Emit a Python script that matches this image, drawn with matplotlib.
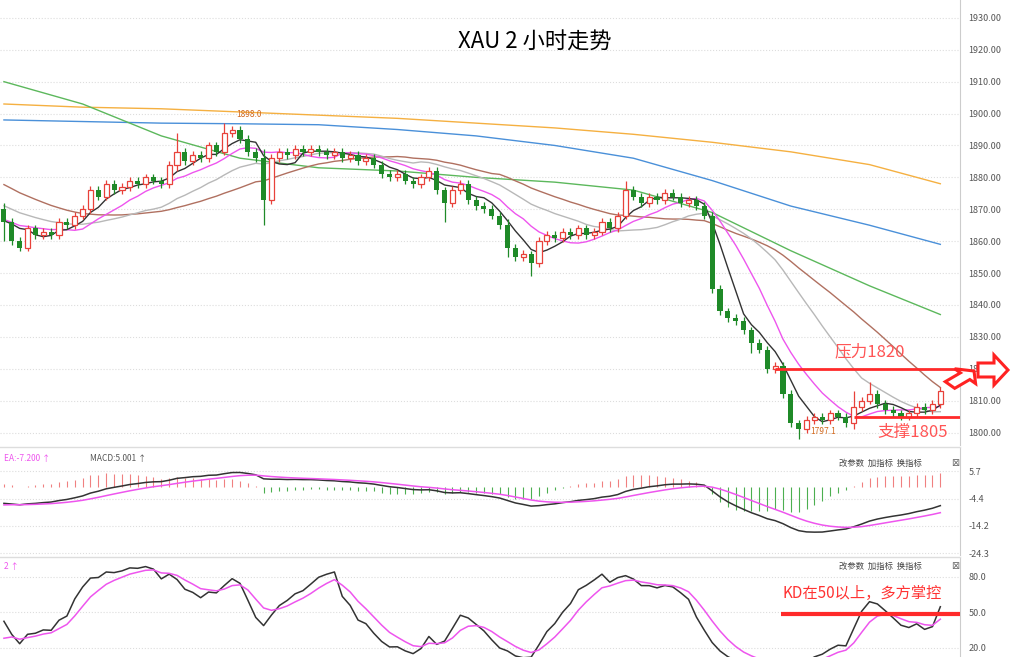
import numpy as np
import pandas as pd
import matplotlib.pyplot as plt
from matplotlib.patches import FancyArrow

plt.rcParams['font.family'] = ['Noto Sans CJK SC', 'DejaVu Sans']

# closes before the visible window (only feed the indicators)
history = [1900, 1898, 1897, 1895, 1893, 1892, 1890, 1889, 1887, 1885,
           1884, 1882, 1880, 1879, 1877, 1876, 1874, 1873, 1872, 1871,
           1870, 1869, 1868, 1867, 1866, 1866, 1865, 1865, 1866, 1870]
closes = [1866, 1860, 1858, 1864, 1862, 1863, 1862, 1866, 1865, 1868,
          1870, 1876, 1874, 1878, 1876, 1877, 1879, 1878, 1880, 1879,
          1878, 1884, 1888, 1885, 1887, 1886, 1890, 1888, 1894, 1895,
          1892, 1888, 1886, 1873, 1886, 1888, 1887, 1889, 1888, 1889,
          1888, 1887, 1888, 1886, 1887, 1885, 1886, 1884, 1881, 1880,
          1881, 1879, 1878, 1880, 1882, 1876, 1872, 1876, 1878, 1873,
          1871, 1870, 1868, 1865, 1858, 1855, 1856, 1853, 1860, 1862,
          1861, 1863, 1862, 1864, 1862, 1863, 1866, 1864, 1868, 1876,
          1874, 1872, 1874, 1873, 1875, 1874, 1872, 1873, 1871, 1868,
          1845, 1838, 1836, 1835, 1832, 1828, 1826, 1820, 1821, 1812,
          1803, 1801, 1804, 1805, 1804, 1806, 1805, 1803, 1808, 1810,
          1812, 1809, 1807, 1806, 1805, 1806, 1808, 1807, 1809, 1813]
# long wicks: index -> (upper, lower)
long_wicks = {0: (2, 6), 22: (6, 2), 28: (3, 1), 33: (3, 8), 56: (1, 6),
              64: (2, 3), 67: (1, 4), 79: (3, 1), 95: (1, 3), 101: (1, 3),
              108: (5, 2), 110: (4, 1)}

# long moving averages, sampled every 10 bars
ma_idx = [0, 10, 20, 30, 40, 50, 60, 70, 80, 90, 100, 110, 119]
ma_orange = [1903, 1902, 1901.5, 1900.5, 1899.5, 1898.5, 1897, 1895.5, 1893.5, 1891, 1888, 1884, 1878]
ma_blue = [1898, 1897.5, 1897, 1896.8, 1896.5, 1895, 1893, 1890, 1886, 1879, 1871, 1865, 1859]
ma_green = [1910, 1903, 1893, 1886, 1883, 1882, 1880, 1878.5, 1876, 1869, 1857, 1846, 1837]

price_ticks = [1800, 1810, 1820, 1830, 1840, 1850, 1860, 1870, 1880, 1890, 1900, 1910, 1920, 1930]
macd_ticks = [5.7, -4.4, -14.2, -24.3]
kd_ticks = [20.0, 50.0, 80.0]

n0 = len(history)
call = pd.Series(history + closes, dtype=float)
oall = call.shift(1).bfill()
hall = np.maximum(oall, call) + 1.2
lall = np.minimum(oall, call) - 1.2
for k, (u, d) in long_wicks.items():
    hall[n0 + k] = max(oall[n0 + k], call[n0 + k]) + u
    lall[n0 + k] = min(oall[n0 + k], call[n0 + k]) - d

c = call[n0:].reset_index(drop=True)
o = oall[n0:].reset_index(drop=True)
hi = hall[n0:].reset_index(drop=True)
lo = lall[n0:].reset_index(drop=True)
x = np.arange(len(c))

def vis(s):
    return s.iloc[n0:].to_numpy()

W, H = 1024, 657
fig = plt.figure(figsize=(W / 100, H / 100), dpi=100)
right = 960 / W
ax = fig.add_axes([0, 1 - 445 / H, right, 445 / H])
ax2 = fig.add_axes([0, 1 - 555 / H, right, 107 / H])
ax3 = fig.add_axes([0, 0, right, 99 / H])

up, dn = '#e8413a', '#1f8a28'
for i in x:
    col = up if c[i] >= o[i] else dn
    ax.vlines(i, lo[i], hi[i], color=col, lw=0.9, zorder=3)
    b0, b1 = sorted([o[i], c[i]])
    if c[i] >= o[i]:
        ax.bar(i, max(b1 - b0, 0.3), bottom=b0, width=0.65, facecolor='white', edgecolor=up, lw=0.9, zorder=4)
    else:
        ax.bar(i, max(b1 - b0, 0.3), bottom=b0, width=0.65, color=dn, zorder=4)

ax.plot(ma_idx, ma_orange, color='#f5b041', lw=1)
ax.plot(ma_idx, ma_blue, color='#4a90d9', lw=1)
ax.plot(ma_idx, ma_green, color='#5cb85c', lw=1)
ax.plot(x, vis(call.rolling(30).mean()), color='#b07060', lw=1)
ax.plot(x, vis(call.rolling(20).mean()), color='#b8b8b8', lw=1)
ax.plot(x, vis(call.rolling(10).mean()), color='#ee55ee', lw=1)
ax.plot(x, vis(call.rolling(5).mean()), color='#333333', lw=1)

xl = (-0.5, 121.5)
ax.set_xlim(xl)
ax.set_ylim(1796.1, 1935.6)
ax.set_yticks(price_ticks)
ax.set_yticklabels([f'{t:.2f}' for t in price_ticks])
ax.text(29.5, 1898.8, '1898.0', fontsize=6, color='#d2691e')
ax.text(102.5, 1799.5, '1797.1', fontsize=6, color='#d2691e')

# resistance / support
ax.hlines(1820, 98, 121.5, color='#ff2a2a', lw=2, zorder=5)
ax.hlines(1805, 108, 121.5, color='#ff2a2a', lw=2, zorder=5)
ax.text(105.5, 1824, '压力1820', fontsize=12, color='#ff5555')
ax.text(111, 1798.5, '支撑1805', fontsize=12, color='#ff5555')
fig.text(535 / W, 1 - 42 / H, 'XAU 2 小时走势', fontsize=16, ha='center', va='center')

# MACD
ema12 = call.ewm(span=12, adjust=False).mean()
ema26 = call.ewm(span=26, adjust=False).mean()
dif = ema12 - ema26
dea = dif.ewm(span=9, adjust=False).mean()
hist = 2 * (dif - dea)
hv = vis(hist)
ax2.vlines(x, 0, hv, colors=np.where(hv >= 0, '#f08080', '#4caf50'), lw=0.8)
ax2.plot(x, vis(dif), color='#333333', lw=1.1)
ax2.plot(x, vis(dea), color='#ee55ee', lw=1.1)
ax2.set_xlim(xl)
ax2.set_ylim(-25, 14.3)
ax2.set_yticks(macd_ticks)
ax2.set_yticklabels([f'{t:.1f}' for t in macd_ticks])
ax2.text(0, 12, 'EA:-7.200 ↑', fontsize=6, color='#ee55ee', va='top')
ax2.text(11, 12, 'MACD:5.001 ↑', fontsize=6, color='#555555', va='top')

# KD
ll = pd.Series(lall).rolling(9, min_periods=1).min()
hh = pd.Series(hall).rolling(9, min_periods=1).max()
rsv = (call - ll) / (hh - ll) * 100
k_line = rsv.ewm(alpha=1 / 3, adjust=False).mean()
d_line = k_line.ewm(alpha=1 / 3, adjust=False).mean()
ax3.plot(x, vis(k_line), color='#333333', lw=1.1)
ax3.plot(x, vis(d_line), color='#ee55ee', lw=1.1)
ax3.set_xlim(xl)
ax3.set_ylim(12.3, 96)
ax3.set_yticks(kd_ticks)
ax3.set_yticklabels([f'{t:.1f}' for t in kd_ticks])
ax3.text(0, 93, '2 ↑', fontsize=6, color='#ee55ee', va='top')
ax3.hlines(49, 98.8, 121.5, color='#ff2a2a', lw=3, zorder=5)
ax3.text(99, 62, 'KD在50以上，多方掌控', fontsize=11, color='#ff3333')

for a in (ax, ax2, ax3):
    a.yaxis.tick_right()
    a.tick_params(axis='y', length=0, labelsize=6.5, labelcolor='#555555', pad=6)
    a.set_xticks([])
    a.grid(axis='y', color='#dddddd', ls=':', lw=0.8)
    for s in ('left', 'top', 'bottom'):
        a.spines[s].set_visible(False)
    a.spines['right'].set_color('#cccccc')
for a, yy in ((ax2, 463), (ax3, 566)):
    fig.text(880 / W, 1 - yy / H, '改参数  加指标  换指标', fontsize=6, color='#444444', va='center', ha='center')
    fig.text(955 / W, 1 - yy / H, '⊠', fontsize=7, color='#666666', va='center', ha='center', family='DejaVu Sans')
fig.add_artist(plt.Line2D([0, right], [1 - 447 / H] * 2, color='#dddddd', lw=1))
fig.add_artist(plt.Line2D([0, right], [1 - 557 / H] * 2, color='#dddddd', lw=1))

# outline arrows
for (x0, y0, dx, dy, w, hw, hl) in [(950, 385, 24, -14, 9, 20, 12), (978, 370, 30, 0, 14, 30, 14)]:
    fig.add_artist(FancyArrow(x0 / W, 1 - y0 / H, dx / W, -dy / H, width=w / H, head_width=hw / H,
                              head_length=hl / W, length_includes_head=True, facecolor='white',
                              edgecolor='#ff2222', lw=2.2, transform=fig.transFigure))

fig.savefig('out.png', dpi=100)
